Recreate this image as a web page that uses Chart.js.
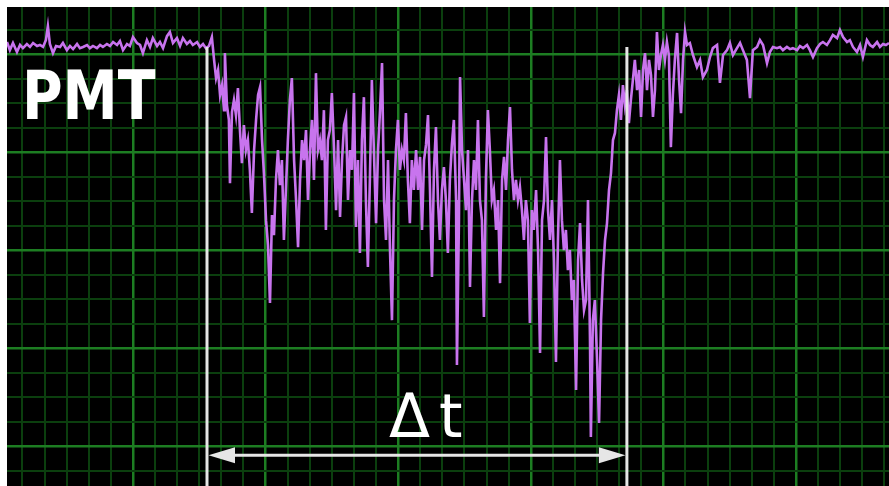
<!DOCTYPE html>
<html>
<head>
<meta charset="utf-8">
<title>PMT pulse</title>
<script src="https://cdn.jsdelivr.net/npm/chart.js@4.4.1/dist/chart.umd.min.js"></script>
<style>
  html, body { margin:0; padding:0; background:#fff; }
  #wrap { position:relative; width:889px; height:486px; overflow:hidden; }
  #chart { position:absolute; left:0; top:0; filter:blur(0.45px); }
  .lbl { position:absolute; color:#fff; line-height:1; white-space:nowrap; font-family:"DejaVu Sans", Verdana, sans-serif; }
  #pmt { left:22px; top:62px; font-size:68px; font-weight:bold; transform-origin:0 0; transform:scaleX(0.815); }
  #dt { left:389px; top:386px; font-size:60px; letter-spacing:9px; }
</style>
</head>
<body>
<div id="wrap">
  <canvas id="chart" width="889" height="486"></canvas>
  <div id="pmt" class="lbl">PMT</div>
  <div id="dt" class="lbl">Δt</div>
</div>
<script>
'use strict';

// ===== data (time in ns, signal in mV; one grid square = 10 x 10) =====
// flat part before the pulse
const baseTimes = [
  -57.0, -55.7, -54.3, -52.5, -51.1, -49.8, -48.0, -46.6, -45.2, -43.4,
  -42.1, -40.7, -39.4, -38.5, -37.6, -36.2, -34.8, -33.0, -31.7, -29.9,
  -28.5, -27.1, -25.3, -24.0, -22.6, -20.8, -19.5, -18.1, -16.3, -14.9,
  -13.6, -11.8, -10.4, -9.0, -7.2, -5.9, -4.5, -2.7, -1.4, 0,
  1.8, 3.2, 4.5, 6.3, 7.7, 9.0, 10.9, 12.2, 13.6, 15.4,
  16.7, 18.1, 19.9, 21.3, 22.6, 24.4, 25.8, 27.1, 29.0, 30.3,
  31.7, 33.0, 34.4, 35.7
];
const baseVolts = [
  4.9, 1.6, 4.5, 0.8, 3.7, 2.4, 4.1, 2.9, 4.5, 3.3,
  3.7, 2.9, 5.7, 11.4, 4.1, 0.4, 3.3, 2.9, 4.5, 1.6,
  3.3, 2.0, 4.1, 2.4, 2.9, 3.7, 2.4, 3.3, 2.4, 3.7,
  2.9, 4.1, 3.3, 4.9, 3.7, 5.3, 1.6, 4.1, 3.3, 6.9,
  4.5, 3.7, 0.4, 5.7, 2.9, 6.5, 3.3, 4.9, 2.4, 7.3,
  9.0, 4.5, 6.5, 3.3, 6.5, 4.1, 5.3, 3.7, 4.9, 2.9,
  4.1, 2.4, 3.3, 6.9
];

// the pulse
const pulseTimes = [
  36.7, 37.6, 38.5, 39.4, 40.3, 41.2, 41.6, 42.5, 43.4, 43.9,
  44.8, 45.7, 46.6, 47.5, 48.4, 49.3, 50.2, 51.1, 52.0, 52.9,
  53.8, 54.8, 55.7, 56.6, 57.5, 58.4, 59.3, 60.2, 61.1, 62.0,
  62.9, 63.8, 64.7, 65.6, 66.5, 67.4, 68.3, 69.2, 70.1, 71.0,
  71.9, 72.9, 73.8, 74.7, 75.6, 76.5, 77.4, 78.3, 79.2, 80.1,
  81.0, 81.9, 82.8, 83.7, 84.6, 85.5, 86.4, 87.3, 88.2, 89.1,
  90.0, 91.0, 91.9, 92.8, 93.7, 94.6, 95.5, 96.4, 97.3, 98.2,
  99.1, 100.0, 100.9, 101.8, 102.7, 103.6, 104.5, 105.4, 106.3, 107.2,
  108.1, 109.0, 110.0, 110.9, 111.8, 112.7, 113.6, 114.5, 115.4, 116.3,
  117.2, 118.1, 119.0, 119.9, 120.8, 121.7, 122.6, 123.5, 124.4, 125.3,
  126.2, 127.1, 128.1, 129.0, 129.9, 130.8, 131.7, 132.6, 133.5, 134.4,
  135.3, 136.2, 137.1, 138.0, 138.9, 139.8, 140.7, 141.6, 142.5, 143.4,
  144.3, 145.2, 146.2, 146.6, 147.5, 148.0, 148.9, 149.8, 150.7, 151.6,
  152.5, 153.4, 154.3, 155.2, 156.1, 157.0, 157.9, 158.8, 159.7, 160.6,
  161.5, 162.4, 163.3, 164.3, 165.2, 166.1, 167.0, 167.9, 168.8, 169.7,
  170.6, 171.5, 172.4, 173.3, 174.2, 175.1, 176.0, 176.9, 177.8, 178.7,
  179.6, 180.5, 181.4, 182.4, 183.3, 184.2, 185.1, 186.0, 186.9, 187.8,
  188.7, 189.6, 190.5, 191.4, 192.3, 193.2, 194.1, 195.0, 195.9, 196.8,
  197.7, 198.6, 199.5, 200.5, 201.4, 202.3, 203.2, 204.1, 205.0, 205.9,
  206.8, 207.2, 208.1, 209.0, 210.0, 210.9, 211.8, 212.7, 213.6, 214.5,
  215.4, 216.3, 217.2, 218.1, 219.0, 219.9, 220.8, 221.7, 222.6, 223.5,
  224.4, 225.3, 226.2, 227.1, 228.1, 229.0, 229.9, 230.8, 231.7, 232.6,
  233.5, 234.4, 235.3, 236.2, 237.1, 238.0, 238.9, 239.8, 240.7, 241.6,
  242.5, 243.4, 244.3, 245.2, 246.2, 247.1, 248.0, 248.9, 249.8, 250.7
];
const pulseVolts = [
  -2.4, -9.8, -6.5, -16.7, -12.7, -22.9, 0.4, -20.8, -26.9, -52.7,
  -23.7, -18.8, -24.9, -13.9, -31.0, -44.5, -29.0, -39.2, -35.1, -47.3,
  -64.9, -39.2, -26.9, -16.7, -13.5, -35.1, -49.4, -67.8, -78.0, -101.6,
  -65.7, -73.9, -51.4, -39.2, -53.5, -43.3, -75.9, -55.5, -35.1, -18.8,
  -9.8, -43.3, -59.6, -78.8, -51.4, -35.1, -43.3, -31.0, -59.6, -39.2,
  -26.9, -51.4, -7.8, -39.2, -35.1, -43.3, -22.9, -71.8, -35.1, -31.0,
  -15.9, -39.2, -63.7, -35.1, -66.5, -43.3, -29.0, -25.7, -59.6, -39.2,
  -47.3, -15.9, -70.6, -43.3, -81.2, -35.1, -17.6, -59.6, -86.9, -51.4,
  -10.6, -39.2, -69.0, -39.2, -22.9, -3.7, -59.6, -75.9, -43.3, -80.0,
  -108.6, -59.6, -39.2, -26.9, -47.3, -39.2, -43.3, -24.1, -51.4, -69.0,
  -43.3, -55.5, -39.2, -55.5, -42.0, -71.8, -43.3, -37.1, -24.9, -55.5,
  -91.0, -47.3, -29.8, -59.6, -75.9, -55.5, -46.1, -59.6, -81.2, -51.4,
  -37.1, -26.9, -59.6, -126.9, -67.8, -9.4, -39.2, -51.4, -63.7, -39.2,
  -95.1, -59.6, -43.3, -55.5, -26.9, -59.6, -67.8, -107.3, -51.4, -22.9,
  -39.2, -59.6, -55.5, -71.8, -59.6, -93.5, -51.4, -42.0, -55.5, -35.1,
  -21.6, -47.3, -59.6, -51.4, -59.6, -54.3, -63.7, -75.9, -59.6, -67.8,
  -109.8, -63.7, -71.8, -55.5, -80.0, -122.0, -67.8, -59.6, -33.9, -63.7,
  -75.9, -59.6, -84.1, -125.7, -75.9, -43.3, -67.8, -80.0, -71.8, -88.2,
  -80.0, -100.4, -92.2, -137.1, -84.1, -69.0, -92.2, -104.5, -100.4, -59.6,
  -116.7, -156.3, -108.6, -100.4, -124.9, -150.6, -108.6, -89.4, -75.9, -69.0,
  -55.5, -48.6, -35.1, -32.2, -22.9, -16.7, -26.9, -12.7, -20.8, -14.7,
  -28.2, -18.8, -10.6, -2.4, -14.7, -6.5, -25.7, -6.5, 0.4, -14.7,
  -2.4, -8.6, -25.7, -14.7, 9.0, -6.5, -0.4, 3.7, -2.4, 4.9,
  -0.4, -38.0, -16.7, -2.4, 8.6, -10.6, -24.1, -2.4, 9.0, 3.7
];

// recovery / flat part after the pulse
const tailTimes = [
  252.0, 253.4, 255.2, 256.6, 257.9, 259.7, 261.1, 262.4, 264.3, 265.6,
  267.0, 268.8, 270.1, 271.5, 273.3, 274.7, 276.0, 277.8, 279.2, 280.5,
  282.4, 283.7, 285.1, 286.9, 288.2, 289.6, 291.4, 292.8, 294.1, 295.9,
  297.3, 298.6, 300.5, 301.8, 303.2, 305.0, 306.3, 307.7, 309.5, 310.9,
  312.2, 314.0, 315.4, 316.7, 318.6, 319.9, 321.3, 323.1, 324.4, 325.8,
  327.6, 329.0, 330.3, 332.1, 333.5, 334.8, 336.7, 338.0, 339.4, 340.7,
  342.1
];
const tailVolts = [
  4.5, -0.4, -5.3, -2.4, -9.4, -6.5, -1.2, 2.4, 3.7, -11.8,
  -0.4, 1.6, 4.5, -0.4, 2.4, 4.5, 1.6, -2.4, -18.0, 1.6,
  2.9, 5.7, 3.7, -3.7, 0.8, 2.9, 2.4, 2.9, 1.6, 2.9,
  2.0, 2.4, 1.6, 3.3, 2.4, 3.7, 1.6, -1.2, 2.4, 4.1,
  4.9, 3.7, 5.7, 7.8, 6.5, 9.8, 6.9, 4.9, 5.7, 2.9,
  0.8, 3.7, -1.2, 5.7, 3.7, 2.9, 4.9, 2.9, 4.1, 3.7,
  4.5
];

// cursors for the Δt measurement
const markerTimes = [33.5, 223.5];
const markerTop = 2.9;
const arrowLevel = -163.7;

// screen window
const xRange = [-57, 342.1];
const yRange = [-176.3, 19.2];
const GRID_STEP = 10;
const X_MAJOR = 60;
const Y_MAJOR = 40;

// ===== colors =====
const BG = '#000';
const GRID_MINOR = '#0b3f0e';
const GRID_MAJOR = '#1d7d22';
const TRACE = '#c874ee';
const CURSOR = '#e6e6e6';

// ===== build =====
const allTimes = baseTimes.concat(pulseTimes, tailTimes);
const allVolts = baseVolts.concat(pulseVolts, tailVolts);
const points = allTimes.map((t, i) => ({ x: t, y: allVolts[i] }));

function gridTicks(min, max){
  const out = [];
  for(let v = Math.ceil(min / GRID_STEP) * GRID_STEP; v <= max; v += GRID_STEP){
    out.push({ value: v });
  }
  return out;
}

function isMajor(v, every){
  return Math.abs(v % every) < 1e-6;
}

const screenBg = {
  id: 'screenBg',
  beforeDraw(chart){
    const { ctx, chartArea: a } = chart;
    ctx.save();
    ctx.fillStyle = BG;
    ctx.fillRect(a.left, a.top, a.right - a.left, a.bottom - a.top);
    ctx.restore();
  }
};

const cursors = {
  id: 'cursors',
  afterDatasetsDraw(chart){
    const { ctx, chartArea: a, scales: { x, y } } = chart;
    const top = y.getPixelForValue(markerTop);
    const ay = y.getPixelForValue(arrowLevel);
    const xs = markerTimes.map(t => x.getPixelForValue(t));

    ctx.save();
    ctx.strokeStyle = CURSOR;
    ctx.fillStyle = CURSOR;
    ctx.lineWidth = 3;

    xs.forEach(px => {
      ctx.beginPath();
      ctx.moveTo(px, top);
      ctx.lineTo(px, a.bottom);
      ctx.stroke();
    });

    // double arrow
    const head = 28, half = 8;
    ctx.beginPath();
    ctx.moveTo(xs[0] + head - 2, ay);
    ctx.lineTo(xs[1] - head + 2, ay);
    ctx.stroke();

    ctx.beginPath();
    ctx.moveTo(xs[0] + 1.5, ay);
    ctx.lineTo(xs[0] + head, ay - half);
    ctx.lineTo(xs[0] + head, ay + half);
    ctx.closePath();
    ctx.fill();

    ctx.beginPath();
    ctx.moveTo(xs[1] - 1.5, ay);
    ctx.lineTo(xs[1] - head, ay - half);
    ctx.lineTo(xs[1] - head, ay + half);
    ctx.closePath();
    ctx.fill();

    ctx.restore();
  }
};

new Chart(document.getElementById('chart'), {
  type: 'line',
  data: {
    datasets: [{
      data: points,
      borderColor: TRACE,
      borderWidth: 2.6,
      pointRadius: 0,
      tension: 0,
      fill: false
    }]
  },
  options: {
    responsive: false,
    animation: false,
    layout: { padding: { left: 7, top: 7, right: 0, bottom: 0 } },
    plugins: {
      legend: { display: false },
      tooltip: { enabled: false }
    },
    scales: {
      x: {
        type: 'linear',
        min: xRange[0],
        max: xRange[1],
        afterBuildTicks: (axis) => { axis.ticks = gridTicks(xRange[0], xRange[1]); },
        ticks: { display: false },
        border: { display: false },
        grid: {
          drawTicks: false,
          color: c => isMajor(c.tick.value, X_MAJOR) ? GRID_MAJOR : GRID_MINOR,
          lineWidth: c => isMajor(c.tick.value, X_MAJOR) ? 2.5 : 2
        }
      },
      y: {
        type: 'linear',
        min: yRange[0],
        max: yRange[1],
        afterBuildTicks: (axis) => { axis.ticks = gridTicks(yRange[0], yRange[1]); },
        ticks: { display: false },
        border: { display: false },
        grid: {
          drawTicks: false,
          color: c => isMajor(c.tick.value, Y_MAJOR) ? GRID_MAJOR : GRID_MINOR,
          lineWidth: c => isMajor(c.tick.value, Y_MAJOR) ? 2.5 : 2
        }
      }
    }
  },
  plugins: [screenBg, cursors]
});
</script>
</body>
</html>
